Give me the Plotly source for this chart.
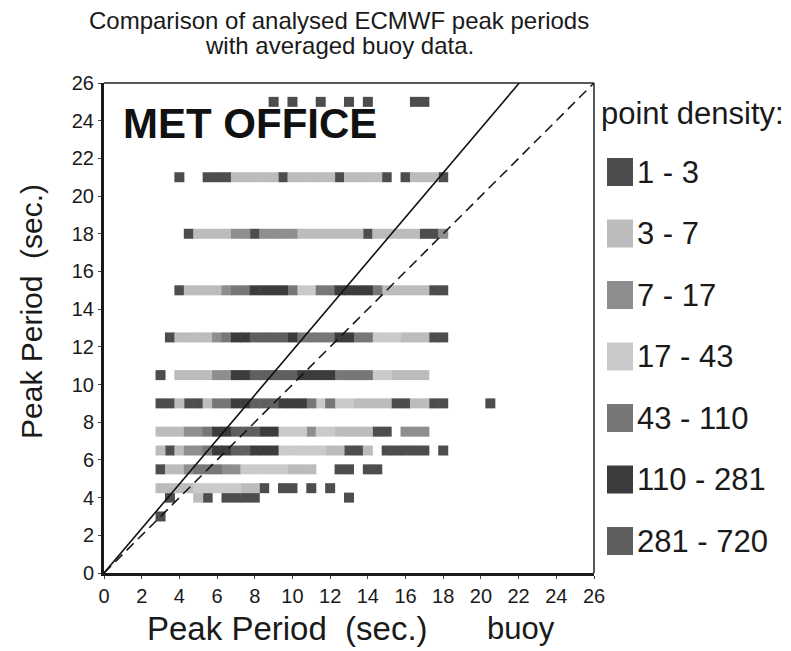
import plotly.graph_objects as go

# ---------------- data ----------------
# density classes (legend)
density_labels = ["1 - 3", "3 - 7", "7 - 17", "17 - 43", "43 - 110", "110 - 281", "281 - 720"]
density_colors = ["#4d4d4d", "#bcbcbc", "#8e8e8e", "#cacaca", "#777777", "#3c3c3c", "#5f5f5f"]

# analysed ECMWF peak periods (rows) and averaged buoy periods (x) with density class per point
row_25_x = [9, 10, 11.5, 13, 14, 16.5, 17]
row_25_c = [0, 0, 0, 0, 0, 0, 0]

row_21_x = [4, 5.5, 6, 6.5, 7, 7.5, 8, 8.5, 9, 9.5, 10, 10.5, 11, 11.5, 12, 12.5, 13, 13.5, 14, 14.5, 15, 16, 16.5, 17, 17.5, 18]
row_21_c = [0, 0, 0, 0, 1, 1, 1, 1, 1, 0, 1, 1, 1, 1, 1, 0, 1, 1, 1, 1, 0, 0, 1, 1, 1, 0]

row_18_x = [4.5, 5, 5.5, 6, 6.5, 7, 7.5, 8, 8.5, 9, 9.5, 10, 10.5, 11, 11.5, 12, 12.5, 13, 13.5, 14, 14.5, 15, 15.5, 16, 16.5, 17, 17.5, 18]
row_18_c = [0, 1, 1, 1, 1, 2, 2, 0, 2, 2, 2, 2, 1, 1, 1, 1, 1, 1, 1, 0, 1, 1, 1, 1, 1, 0, 0, 2]

row_15_x = [4, 4.5, 5, 5.5, 6, 6.5, 7, 7.5, 8, 8.5, 9, 9.5, 10, 10.5, 11, 11.5, 12, 12.5, 13, 13.5, 14, 14.5, 15, 15.5, 16, 16.5, 17, 17.5, 18]
row_15_c = [0, 1, 1, 1, 1, 2, 4, 4, 5, 5, 5, 5, 4, 3, 3, 4, 4, 5, 5, 5, 5, 4, 1, 1, 1, 1, 1, 0, 0]

row_12_x = [3.5, 4, 4.5, 5, 5.5, 6, 6.5, 7, 7.5, 8, 8.5, 9, 9.5, 10, 10.5, 11, 11.5, 12, 12.5, 13, 13.5, 14, 14.5, 15, 15.5, 16, 16.5, 17, 17.5, 18]
row_12_c = [0, 1, 1, 1, 1, 2, 4, 5, 5, 6, 6, 6, 6, 5, 4, 4, 4, 4, 5, 5, 4, 4, 3, 3, 3, 1, 1, 1, 0, 0]

row_10_x = [3, 4, 4.5, 5, 5.5, 6, 6.5, 7, 7.5, 8, 8.5, 9, 9.5, 10, 10.5, 11, 11.5, 12, 12.5, 13, 13.5, 14, 14.5, 15, 15.5, 16, 16.5, 17]
row_10_c = [0, 1, 1, 1, 1, 2, 2, 5, 5, 6, 6, 6, 6, 6, 5, 5, 5, 5, 4, 4, 4, 4, 3, 3, 1, 1, 1, 1]

row_9_x = [3, 3.5, 4, 4.5, 5, 5.5, 6, 6.5, 7, 7.5, 8, 8.5, 9, 9.5, 10, 10.5, 11, 11.5, 12, 12.5, 13, 13.5, 14, 14.5, 15, 15.5, 16, 16.5, 17, 17.5, 18, 20.5]
row_9_c = [0, 0, 1, 0, 0, 1, 4, 4, 5, 5, 6, 6, 6, 5, 5, 5, 4, 3, 4, 3, 3, 1, 1, 1, 1, 0, 0, 1, 1, 0, 0, 0]

row_7_x = [3, 3.5, 4, 4.5, 5, 5.5, 6, 6.5, 7, 7.5, 8, 8.5, 9, 9.5, 10, 10.5, 11, 11.5, 12, 12.5, 13, 13.5, 14, 14.5, 15, 16, 16.5, 17]
row_7_c = [1, 1, 1, 2, 2, 4, 5, 5, 6, 6, 6, 5, 5, 3, 3, 3, 2, 3, 3, 1, 1, 1, 1, 0, 0, 2, 2, 2]

row_6_x = [3, 3.5, 4, 4.5, 5, 5.5, 6, 6.5, 7, 7.5, 8, 8.5, 9, 9.5, 10, 10.5, 11, 11.5, 12, 12.5, 13, 13.5, 14, 15, 15.5, 16, 16.5, 17, 18]
row_6_c = [1, 0, 1, 2, 2, 4, 5, 5, 6, 6, 5, 5, 5, 3, 3, 3, 3, 3, 1, 1, 0, 0, 1, 0, 0, 0, 0, 0, 0]

row_5_x = [3, 3.5, 4, 4.5, 5, 5.5, 6, 6.5, 7, 7.5, 8, 8.5, 9, 9.5, 10, 10.5, 11, 12.5, 13, 14, 14.5]
row_5_c = [0, 1, 1, 2, 4, 4, 4, 2, 2, 3, 3, 3, 3, 3, 1, 1, 1, 0, 0, 0, 0]

row_45_x = [3, 3.5, 4, 4.5, 5, 5.5, 6, 6.5, 7, 7.5, 8, 8.5, 9.5, 10, 11, 12]
row_45_c = [1, 1, 1, 1, 3, 3, 3, 3, 3, 1, 1, 0, 0, 0, 0, 0]

row_4_x = [3.5, 5, 5.5, 6.5, 7, 7.5, 8, 13]
row_4_c = [0, 1, 0, 0, 0, 0, 0, 0]

row_3_x = [3]
row_3_c = [0]

row_periods = [25, 21, 18, 15, 12.5, 10.5, 9, 7.5, 6.5, 5.5, 4.5, 4, 3]

fit_slope = 1.18        # solid line: fit of model vs buoy
identity_slope = 1.0    # dashed line: perfect agreement
axis_max = 26
tick_vals = list(range(0, 28, 2))

# ---------------- figure ----------------
rows_x = [row_25_x, row_21_x, row_18_x, row_15_x, row_12_x, row_10_x, row_9_x,
          row_7_x, row_6_x, row_5_x, row_45_x, row_4_x, row_3_x]
rows_c = [row_25_c, row_21_c, row_18_c, row_15_c, row_12_c, row_10_c, row_9_c,
          row_7_c, row_6_c, row_5_c, row_45_c, row_4_c, row_3_c]

fig = go.Figure()

for k, lab in enumerate(density_labels):
    xs, ys = [], []
    for period, rx, rc in zip(row_periods, rows_x, rows_c):
        for xv, cv in zip(rx, rc):
            if cv == k:
                xs.append(xv)
                ys.append(period)
    fig.add_trace(go.Scatter(
        x=xs, y=ys, mode="markers", name=lab, showlegend=False,
        marker=dict(symbol="square", size=10, color=density_colors[k],
                    line=dict(width=0)),
        hoverinfo="x+y+name"))

# fit line and 1:1 line
fig.add_trace(go.Scatter(x=[0, axis_max / fit_slope], y=[0, axis_max], mode="lines",
                         line=dict(color="#111111", width=1.6), showlegend=False, hoverinfo="skip"))
fig.add_trace(go.Scatter(x=[0, axis_max / identity_slope], y=[0, axis_max], mode="lines",
                         line=dict(color="#111111", width=1.5, dash="10px,6px"),
                         showlegend=False, hoverinfo="skip"))

OFF = 8  # page body margin in the browser
W, H = 791 - OFF, 651 - OFF
L, T = 104 - OFF, 83 - OFF
pw, ph = 490, 490
R, B = W - L - pw, H - T - ph

def px_x(p):  # screenshot pixel -> paper
    return (p - OFF - L) / pw

def px_y(p):
    return (T + ph - (p - OFF)) / ph

font_main = "Liberation Sans, Arial, Helvetica, sans-serif"
txt = "#1a1a1a"

annotations = []
# title
annotations.append(dict(text="Comparison of analysed ECMWF peak periods", x=px_x(339), y=px_y(20),
                        xref="paper", yref="paper", showarrow=False, xanchor="center", yanchor="middle",
                        font=dict(family=font_main, size=24, color=txt)))
annotations.append(dict(text="with averaged buoy data.", x=px_x(339), y=px_y(46),
                        xref="paper", yref="paper", showarrow=False, xanchor="center", yanchor="middle",
                        font=dict(family=font_main, size=24, color=txt)))
# MET OFFICE
annotations.append(dict(text="<b>MET OFFICE</b>", x=px_x(250), y=px_y(123),
                        xref="paper", yref="paper", showarrow=False, xanchor="center", yanchor="middle",
                        font=dict(family=font_main, size=42, color="#111111")))
# axis titles
annotations.append(dict(text="Peak Period&nbsp;&nbsp;(sec.)", x=px_x(31), y=px_y(312),
                        xref="paper", yref="paper", showarrow=False, textangle=-90,
                        xanchor="center", yanchor="middle",
                        font=dict(family=font_main, size=30, color=txt)))
annotations.append(dict(text="Peak Period&nbsp;&nbsp;(sec.)", x=px_x(287), y=px_y(628),
                        xref="paper", yref="paper", showarrow=False,
                        xanchor="center", yanchor="middle",
                        font=dict(family=font_main, size=33, color=txt)))
annotations.append(dict(text="buoy", x=px_x(521), y=px_y(628),
                        xref="paper", yref="paper", showarrow=False,
                        xanchor="center", yanchor="middle",
                        font=dict(family=font_main, size=31, color=txt)))
# legend
annotations.append(dict(text="point density:", x=px_x(599), y=px_y(114),
                        xref="paper", yref="paper", showarrow=False,
                        xanchor="left", yanchor="middle",
                        font=dict(family=font_main, size=31, color=txt)))
shapes = []
leg_y0 = 172
leg_dy = 61.5
for k, lab in enumerate(density_labels):
    cy = leg_y0 + k * leg_dy
    shapes.append(dict(type="rect", xref="paper", yref="paper",
                       x0=px_x(607), x1=px_x(633), y0=px_y(cy - 14), y1=px_y(cy + 14),
                       fillcolor=density_colors[k], line=dict(width=0)))
    annotations.append(dict(text=lab, x=px_x(635), y=px_y(cy),
                            xref="paper", yref="paper", showarrow=False,
                            xanchor="left", yanchor="middle",
                            font=dict(family=font_main, size=31, color=txt)))

# thin top and right frame
shapes.append(dict(type="line", xref="paper", yref="paper", x0=0, x1=1, y0=1, y1=1,
                   line=dict(color="#222222", width=1.5)))
shapes.append(dict(type="line", xref="paper", yref="paper", x0=1, x1=1, y0=0, y1=1,
                   line=dict(color="#222222", width=1.5)))

fig.update_layout(
    width=W, height=H, autosize=False,
    margin=dict(l=L, r=R, t=T, b=B),
    paper_bgcolor="white", plot_bgcolor="white",
    showlegend=False,
    annotations=annotations, shapes=shapes,
    xaxis=dict(range=[0, axis_max], tickvals=tick_vals, showgrid=False, zeroline=False,
               showline=True, linecolor="#1a1a1a", linewidth=3, ticks="outside", ticklen=3,
               tickcolor="#444", automargin=False,
               tickfont=dict(family="Liberation Sans Narrow, Arial Narrow, sans-serif", size=20, color=txt)),
    yaxis=dict(range=[0, axis_max], tickvals=tick_vals, showgrid=False, zeroline=False,
               showline=True, linecolor="#1a1a1a", linewidth=3, ticks="outside", ticklen=3,
               tickcolor="#444", automargin=False,
               tickfont=dict(family=font_main, size=20, color=txt)),
)

fig.write_html("out.html")
